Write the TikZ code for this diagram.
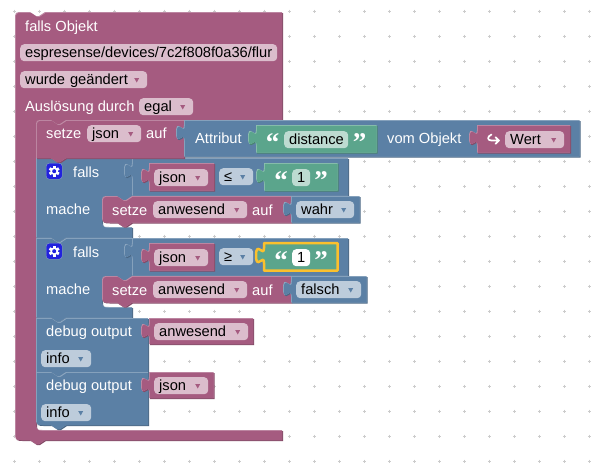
\documentclass[tikz,border=0pt]{standalone}
\usepackage{fontspec}
\setmainfont{Liberation Sans}
\newfontfamily\quotefont{Liberation Serif}
\definecolor{pinkbase}{HTML}{A55B80}
\definecolor{pinkdark}{HTML}{844966}
\definecolor{pinklight}{HTML}{C08CA6}
\definecolor{pinkfield}{HTML}{DBBDCC}
\definecolor{bluebase}{HTML}{5B80A5}
\definecolor{bluedark}{HTML}{496684}
\definecolor{bluelight}{HTML}{8CA6C0}
\definecolor{bluefield}{HTML}{BDCCDB}
\definecolor{greenbase}{HTML}{5BA58C}
\definecolor{greendark}{HTML}{498470}
\definecolor{greenlight}{HTML}{8CC0AF}
\definecolor{greenfield}{HTML}{BDDBD1}
\definecolor{griddot}{HTML}{CCCCCC}
\definecolor{glowline}{HTML}{FBC02D}
\definecolor{gearblue}{HTML}{2222DD}

% three layers: shadow, highlight, body
\newcommand{\drawblock}[2]{%
    \fill[#1dark, shift={(1,1)}] #2;
    \fill[#1light] #2;
    \begin{scope}
        \clip #2;
        \fill[#1base, shift={(0.8,0.8)}] #2;
    \end{scope}
}
% value block with a tab on the left
\newcommand{\valpath}[4]{
    (#1,#2) -- (#3,#2) -- (#3,#4) -- (#1,#4) -- (#1,#2+20)
    .. controls (#1,#2+10) and (#1-8,#2+28) .. (#1-8,#2+12.5)
    .. controls (#1-8,#2-3) and (#1,#2+15) .. (#1,#2+5) -- cycle
}

\begin{document}
\begin{tikzpicture}[x=1pt, y=-1pt,
    fieldbox/.style={anchor=north west, rounded corners=4pt, inner xsep=5pt, inner ysep=2pt,
        text height=11pt, text depth=2pt, align=left, text=black, font=\fontsize{14.67}{16}\selectfont},
    lbl/.style={anchor=base west, inner sep=0pt, text=white, font=\fontsize{14.67}{16}\selectfont},
    quotemark/.style={anchor=center, inner sep=0pt, text=white, font=\quotefont\bfseries\fontsize{27}{28}\selectfont}
    ]

    \useasboundingbox (0,0) rectangle (607,464);
    \fill[white] (0,0) rectangle (607,464);

    % Define grid
    \foreach \i in {0,...,23} {
    \foreach \j in {0,...,18} {
        \draw[griddot, line width=0.8pt] (14.3+25*\i-1.5,11+25*\j) -- ++(3,0) (14.3+25*\i,11+25*\j-1.5) -- ++(0,3);
    }
    }

    % Outer block
    \drawblock{pink}{(15,20) .. controls (15,12) .. (23,12) -- (30,12) -- (36,16) -- (39,16) -- (45,12)
        -- (282,12) -- (282,120) -- (66,120) -- (60,124) -- (57,124) -- (51,120) -- (44,120)
        .. controls (36,120) .. (36,128) -- (36,422) .. controls (36,430) .. (44,430) -- (282,430)
        -- (282,440) -- (45,440) -- (39,444) -- (36,444) -- (30,440) -- (23,440)
        .. controls (15,440) .. (15,432) -- cycle}

    % Define statements
    \foreach \y in {158,238} {
        \drawblock{blue}{(36,\y) -- (51,\y) -- (57,\y+4) -- (60,\y+4) -- (66,\y) -- (132,\y)
            -- (132,\y+38) -- (126,\y+42) -- (123,\y+42) -- (117,\y+38) -- (110,\y+38)
            .. controls (102,\y+38) .. (102,\y+46) -- (102,\y+61) .. controls (102,\y+69) .. (110,\y+69)
            -- (132,\y+69) -- (132,\y+79.5) -- (66,\y+79.5) -- (60,\y+83.5) -- (57,\y+83.5) -- (51,\y+79.5)
            -- (36,\y+79.5) -- cycle}
        \drawblock{blue}{\valpath{132}{\y}{348}{\y+37.5}}
    }
    \drawblock{pink}{(36,128) .. controls (36,120) .. (44,120) -- (51,120) -- (57,124) -- (60,124) -- (66,120)
        -- (184,120) -- (184,158) -- (66,158) -- (60,162) -- (57,162) -- (51,158) -- (36,158) -- cycle}
    \drawblock{blue}{(36,318) -- (51,318) -- (57,322) -- (60,322) -- (66,318) -- (148,318) -- (148,372)
        -- (66,372) -- (60,376) -- (57,376) -- (51,372) -- (36,372) -- cycle}
    \drawblock{blue}{(36,372) -- (51,372) -- (57,376) -- (60,376) -- (66,372) -- (148,372) -- (148,425)
        -- (66,425) -- (60,429) -- (57,429) -- (51,425) -- (44,425) .. controls (36,425) .. (36,417) -- cycle}
    \foreach \y in {196,276} {
        \drawblock{pink}{(102,\y+8) .. controls (102,\y) .. (110,\y) -- (117,\y) -- (123,\y+4) -- (126,\y+4)
            -- (132,\y) -- (291,\y) -- (291,\y+26.5) -- (132,\y+26.5) -- (126,\y+30.5) -- (123,\y+30.5) -- (117,\y+26.5)
            -- (110,\y+26.5) .. controls (102,\y+26.5) .. (102,\y+18.5) -- cycle}
    }

    % Define values
    \drawblock{blue}{\valpath{184}{120}{579.5}{156.5}}
    \drawblock{green}{\valpath{256}{125}{376.5}{152.5}}
    \drawblock{pink}{\valpath{477}{125}{570}{152.5}}
    \drawblock{pink}{\valpath{149}{163}{214}{190.5}}
    \drawblock{pink}{\valpath{149}{243}{214}{270.5}}
    \drawblock{green}{\valpath{264}{163}{337.5}{190.5}}
    \drawblock{green}{\valpath{264}{243}{337.5}{270.5}}
    \draw[glowline, line width=2.5pt, line join=round] \valpath{264}{243}{337.5}{270.5};
    \drawblock{blue}{\valpath{291}{196}{359.5}{222.5}}
    \drawblock{blue}{\valpath{291}{276}{366.5}{302.5}}
    \drawblock{pink}{\valpath{149}{318}{253}{344}}
    \drawblock{pink}{\valpath{149}{372}{213.5}{398}}

    % Define labels
    \foreach \lblname/\x/\y/\txt in {
        lObjekt/25/31/falls Objekt, lAusloesung/25/111/Auslösung durch,
        lSetze/46/138/setze, lAuf/146/138/auf, lAttribut/195/143.5/Attribut, lVom/387/143.5/vom Objekt,
        lFallsA/73/177/falls, lMacheA/46/214/mache, lSetzeA/112/215/setze, lAufA/252/215/auf,
        lFallsB/73/257/falls, lMacheB/46/294/mache, lSetzeB/112/295/setze, lAufB/252/295/auf,
        lDebugA/46/336.5/debug output, lDebugB/46/390.5/debug output
    } {
        \node[lbl] (\lblname) at (\x,\y) {\txt};
    }

    % Define plain fields
    \foreach \fname/\x/\y/\w/\col/\txt in {
        fTopic/20/44/257/pinkfield/{espresense/devices/7c2f808f0a36/flur},
        fDistance/284/131/64/greenfield/distance,
        fOneA/292/169/18/greenfield/1,
        fOneB/292/249/18/white/1
    } {
        \node[fieldbox, fill=\col, text width={(\w-10)*1pt}] (\fname) at (\x,\y) {\txt};
    }

    % Define dropdown fields
    \foreach \fname/\x/\y/\w/\col/\tip/\txt in {
        fChanged/20/71/127/pinkfield/pinkbase/wurde geändert,
        fEgal/139/98/54/pinkfield/pinkbase/egal,
        fJson/87/125/54/pinkfield/pinkbase/json,
        fWert/505/131/59/pinkfield/pinkbase/Wert,
        fJsonA/154/169/54/pinkfield/pinkbase/json,
        fJsonB/154/249/54/pinkfield/pinkbase/json,
        fLe/219/168/34/bluefield/bluebase/≤,
        fGe/219/248/34/bluefield/bluebase/≥,
        fAnwesendA/153/201/94/pinkfield/pinkbase/anwesend,
        fAnwesendB/153/281/94/pinkfield/pinkbase/anwesend,
        fWahr/296/201/58/bluefield/bluebase/wahr,
        fFalsch/296/281/65/bluefield/bluebase/falsch,
        fAnwesendC/154/323/94/pinkfield/pinkbase/anwesend,
        fJsonC/154/377/54/pinkfield/pinkbase/json,
        fInfoA/41/350/50/bluefield/bluebase/info,
        fInfoB/41/404/50/bluefield/bluebase/info
    } {
        \node[fieldbox, fill=\col, text width={(\w-10)*1pt}] (\fname) at (\x,\y) {\txt};
        \fill[\tip] ([shift={(-13.2,7)}]\fname.north east) -- ++(5,0) -- ++(-2.5,4.5) -- cycle;
    }

    % Define quotes
    \foreach \qname/\x/\y/\txt in {
        qDistL/272.5/143/“, qDistR/359.5/143/”,
        qOneAL/281/181/“, qOneAR/321/181/”,
        qOneBL/281/261/“, qOneBR/321/261/”
    } {
        \node[quotemark] (\qname) at (\x,\y) {\txt};
    }

    % Define icons
    \foreach \gname/\y in {gearA/163, gearB/243} {
        \node[anchor=north west, minimum size=16pt, inner sep=0pt, rounded corners=3pt, fill=gearblue, draw=bluelight] (\gname) at (46,\y) {};
        \fill[white] (\gname.center) circle[radius=3.8pt];
        \foreach \a in {0,60,...,300} {
            \fill[white, rotate around={\a:(\gname.center)}] ([shift={(-1.4,-5.4)}]\gname.center) rectangle ++(2.8,3);
        }
        \fill[gearblue] (\gname.center) circle[radius=2pt];
    }
    \draw[white, line width=1.7pt, line cap=round, line join=round]
        (491.5,134.5) .. controls (487,136.5) and (487,140.5) .. (491.5,140.5) -- (499,140.5)
        (495.5,137.2) -- (499,140.5) -- (495.5,143.8);
\end{tikzpicture}
\end{document}
